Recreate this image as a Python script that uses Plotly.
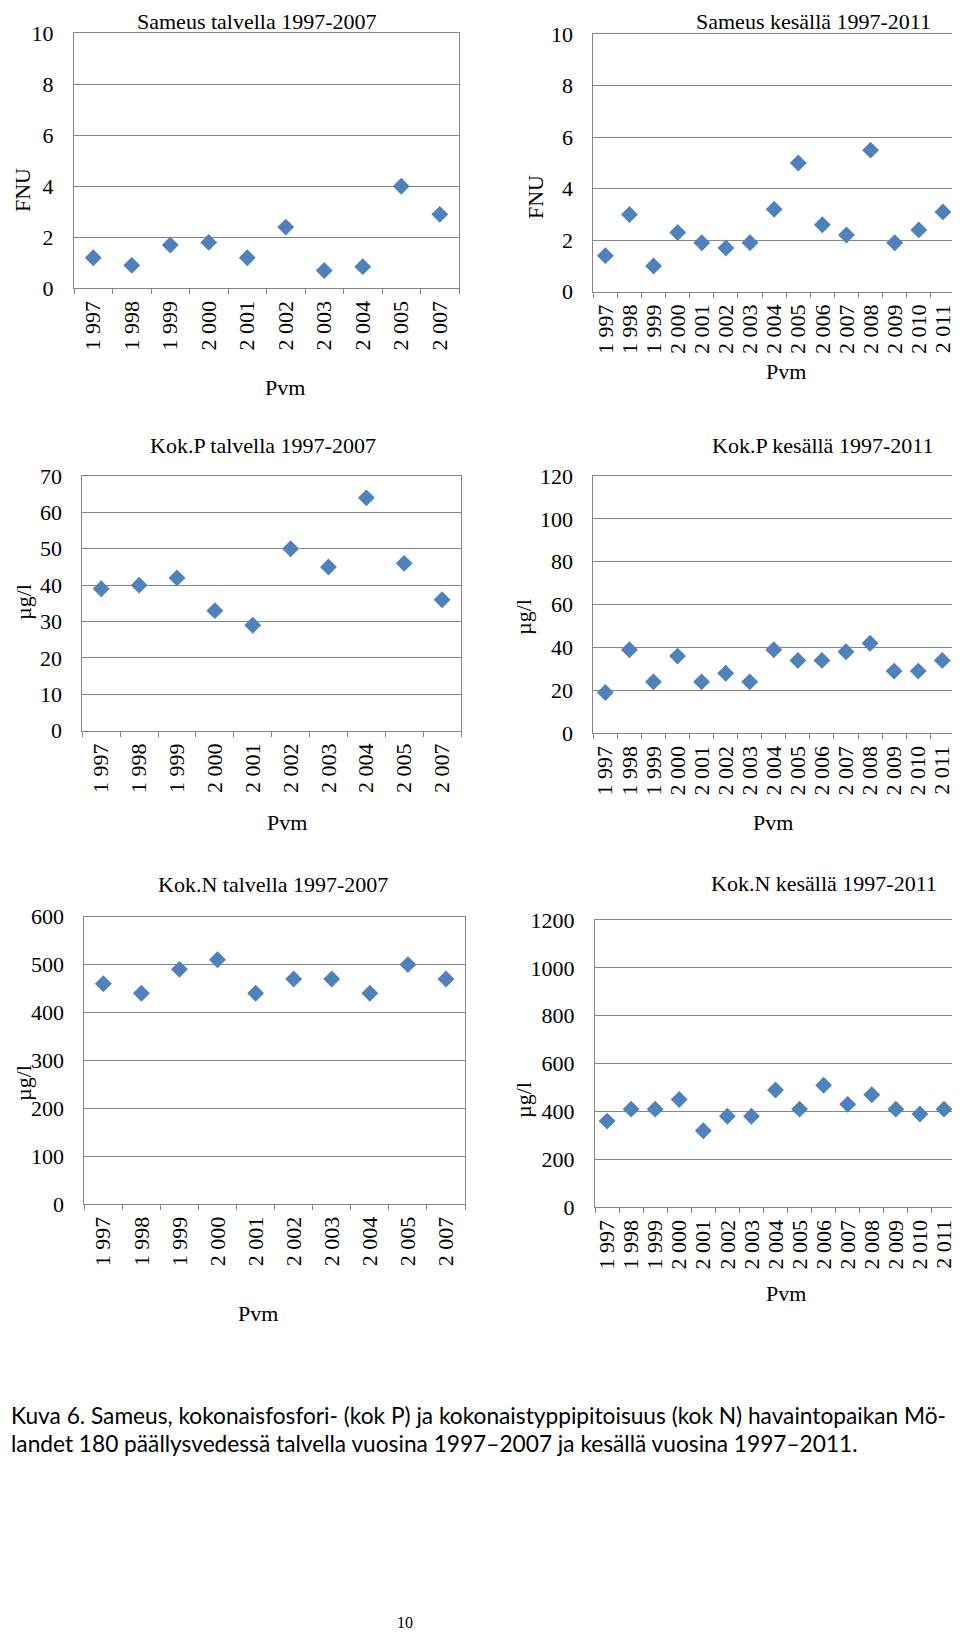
import plotly.graph_objects as go

# The page body has an 8px default margin, so the figure is drawn 8px in and 8px down.
OX, OY = 8, 8
W, H = 960 - OX, 1633 - OY

years_winter = ["1 997", "1 998", "1 999", "2 000", "2 001", "2 002", "2 003", "2 004", "2 005", "2 007"]
years_summer = ["1 997", "1 998", "1 999", "2 000", "2 001", "2 002", "2 003", "2 004", "2 005",
                "2 006", "2 007", "2 008", "2 009", "2 010", "2 011"]

sameus_talvi = [1.2, 0.9, 1.7, 1.8, 1.2, 2.4, 0.7, 0.85, 4.0, 2.9]
sameus_kesa = [1.4, 3.0, 1.0, 2.3, 1.9, 1.7, 1.9, 3.2, 5.0, 2.6, 2.2, 5.5, 1.9, 2.4, 3.1]
kokp_talvi = [39, 40, 42, 33, 29, 50, 45, 64, 46, 36]
kokp_kesa = [19, 39, 24, 36, 24, 28, 24, 39, 34, 34, 38, 42, 29, 29, 34]
kokn_talvi = [460, 440, 490, 510, 440, 470, 470, 440, 500, 470]
kokn_kesa = [360, 410, 410, 450, 320, 380, 380, 490, 410, 510, 430, 470, 410, 390, 410]

titles = ["Sameus talvella 1997-2007", "Sameus kesällä 1997-2011",
          "Kok.P talvella 1997-2007", "Kok.P kesällä 1997-2011",
          "Kok.N talvella 1997-2007", "Kok.N kesällä 1997-2011"]
ytitles = ["FNU", "FNU", "µg/l", "µg/l", "µg/l", "µg/l"]
xtitle = "Pvm"

panels = [
    dict(x=years_winter, y=sameus_talvi, box=(74, 459, 33.3, 288.3), yr=10, dt=2,
         title=(257, 21), ytl=(23, 190), xtl=(285, 387)),
    dict(x=years_summer, y=sameus_kesa, box=(593.3, 955, 34.3, 291.7), yr=10, dt=2,
         title=(813, 21), ytl=(535, 197), xtl=(786, 372)),
    dict(x=years_winter, y=kokp_talvi, box=(82.3, 461, 476, 730.7), yr=70, dt=10,
         title=(262.5, 445), ytl=(23, 602), xtl=(287, 823)),
    dict(x=years_summer, y=kokp_kesa, box=(593.3, 954.3, 476, 733.3), yr=120, dt=20,
         title=(822.5, 445), ytl=(523, 617), xtl=(773, 822)),
    dict(x=years_winter, y=kokn_talvi, box=(84.3, 465, 916.7, 1204), yr=600, dt=100,
         title=(272.5, 884), ytl=(23, 1083), xtl=(258, 1313)),
    dict(x=years_summer, y=kokn_kesa, box=(595, 956, 920, 1207.3), yr=1200, dt=200,
         title=(823.7, 883), ytl=(523, 1100), xtl=(786, 1293)),
]

SERIF = "Liberation Serif"
GREY = "#868686"
BLUE = "#4F81BD"
FS = 22

fig = go.Figure()
annotations = []


def px(x):
    return (x - OX) / W


def py(y):
    return 1 - (y - OY) / H


for i, p in enumerate(panels, start=1):
    sfx = "" if i == 1 else str(i)
    fig.add_trace(go.Scatter(
        x=p["x"], y=p["y"], mode="markers",
        marker=dict(symbol="diamond", size=13, color=BLUE, line=dict(width=0)),
        xaxis="x" + sfx, yaxis="y" + sfx, showlegend=False, hoverinfo="x+y"))
    x0, x1, y0, y1 = p["box"]
    fig.layout["xaxis" + sfx] = dict(
        domain=[px(x0), px(x1)], anchor="y" + sfx, type="category",
        categoryorder="array", categoryarray=p["x"],
        tickmode="array", tickvals=p["x"], ticktext=p["x"],
        range=[-0.5, len(p["x"]) - 0.5],
        showgrid=False, showline=True, mirror=True, linecolor=GREY, linewidth=1,
        ticks="outside", tickson="boundaries", ticklen=5, tickcolor=GREY, tickwidth=1,
        tickangle=-90, tickfont=dict(family=SERIF, size=FS, color="black"),
        ticklabelstandoff=3, fixedrange=True, zeroline=False, automargin=False)
    fig.layout["yaxis" + sfx] = dict(
        domain=[py(y1), py(y0)], anchor="x" + sfx,
        range=[0, p["yr"]], dtick=p["dt"], tick0=0,
        showgrid=True, gridcolor=GREY, gridwidth=1,
        showline=True, mirror=True, linecolor=GREY, linewidth=1,
        ticks="", tickfont=dict(family=SERIF, size=FS, color="black"),
        ticklabelstandoff=15, zeroline=False, fixedrange=True, automargin=False)
    annotations.append(dict(text=titles[i - 1], x=px(p["title"][0]), y=py(p["title"][1]),
                            xref="paper", yref="paper", showarrow=False,
                            xanchor="center", yanchor="middle",
                            font=dict(family=SERIF, size=FS, color="black")))
    annotations.append(dict(text=ytitles[i - 1], x=px(p["ytl"][0]), y=py(p["ytl"][1]),
                            xref="paper", yref="paper", showarrow=False, textangle=-90,
                            xanchor="center", yanchor="middle",
                            font=dict(family=SERIF, size=FS, color="black")))
    annotations.append(dict(text=xtitle, x=px(p["xtl"][0]), y=py(p["xtl"][1]),
                            xref="paper", yref="paper", showarrow=False,
                            xanchor="center", yanchor="middle",
                            font=dict(family=SERIF, size=FS, color="black")))

caption1 = "Kuva 6. Sameus, kokonaisfosfori- (kok P) ja kokonaistyppipitoisuus (kok N) havaintopaikan Mö-"
caption2 = "landet 180 päällysvedessä talvella vuosina 1997–2007 ja kesällä vuosina 1997–2011."
for txt, yy in [(caption1, 1415), (caption2, 1443)]:
    annotations.append(dict(text=txt, x=px(OX + 0.5), y=py(yy), xref="paper", yref="paper",
                            showarrow=False, xanchor="left", yanchor="middle",
                            font=dict(family="Lato", size=22.7, color="black")))
annotations.append(dict(text="10", x=px(405), y=0, xref="paper", yref="paper",
                        showarrow=False, xanchor="center", yanchor="bottom",
                        font=dict(family=SERIF, size=16, color="black")))

fig.update_layout(
    width=W, height=H, margin=dict(l=0, r=0, t=0, b=0, autoexpand=False),
    paper_bgcolor="white", plot_bgcolor="white",
    annotations=annotations, showlegend=False)

fig.write_html("out.html")
